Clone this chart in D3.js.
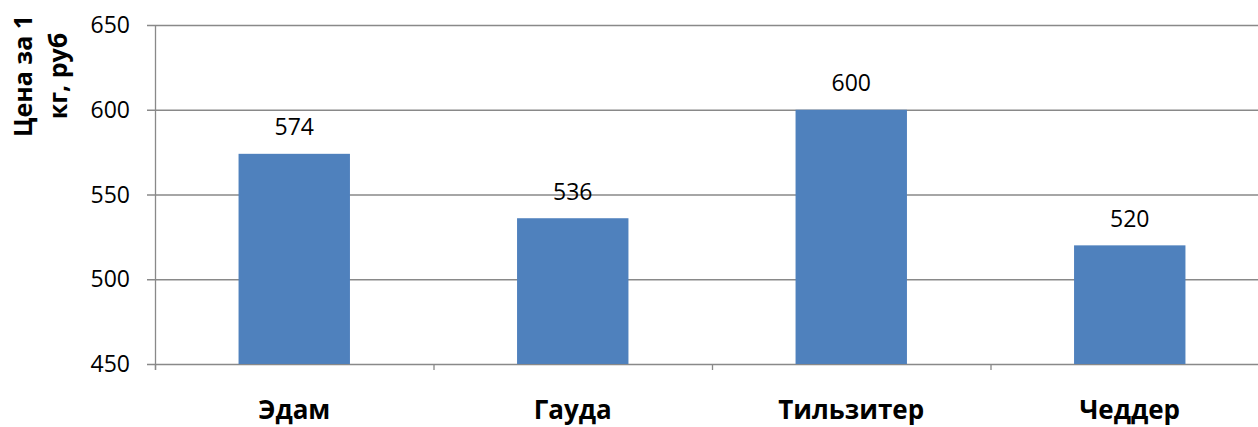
<!DOCTYPE html>
<html><head><meta charset="utf-8">
<script src="https://cdn.jsdelivr.net/npm/d3@7"></script>
<style>body{margin:0;background:#fff}svg{display:block}</style>
</head><body>
<svg id="c" width="1258" height="427"></svg>
<script>
const categories = ["Эдам", "Гауда", "Тильзитер", "Чеддер"];
const values = [574, 536, 600, 520];
const yTicks = [450, 500, 550, 600, 650];
const yTitle = ["Цена за 1", "кг, руб"];

const svg = d3.select("#c");
const font = "'Open Sans', sans-serif";
const plotLeft = 155, plotRight = 1269, plotTop = 25, plotBottom = 364;

const x = d3.scaleBand().domain(categories).range([plotLeft, plotRight]).paddingInner(0.6).paddingOuter(0.3);
const y = d3.scaleLinear().domain([450, 650]).range([plotBottom, plotTop]);

// gridlines
svg.append("g").selectAll("line").data(yTicks).join("line")
  .attr("x1", plotLeft - 8).attr("x2", 1258)
  .attr("y1", d => y(d) + 0.5).attr("y2", d => y(d) + 0.5)
  .attr("stroke", "#898989").attr("stroke-width", 1.3);

// bars
svg.append("g").selectAll("rect").data(values).join("rect")
  .attr("x", (d, i) => x(categories[i]))
  .attr("width", x.bandwidth())
  .attr("y", d => y(d))
  .attr("height", d => y(450) - y(d))
  .attr("fill", "#4f81bd");

// y axis line
svg.append("line").attr("x1", plotLeft + 0.5).attr("x2", plotLeft + 0.5)
  .attr("y1", plotTop).attr("y2", plotBottom + 6)
  .attr("stroke", "#898989").attr("stroke-width", 1.3);

// x category ticks
const step = x.step();
svg.append("g").selectAll("line").data(d3.range(categories.length + 1)).join("line")
  .attr("x1", i => plotLeft + i * step + 0.5).attr("x2", i => plotLeft + i * step + 0.5)
  .attr("y1", plotBottom).attr("y2", plotBottom + 6)
  .attr("stroke", "#898989").attr("stroke-width", 1.3);

// y tick labels
svg.append("g").selectAll("text").data(yTicks).join("text")
  .attr("x", 130).attr("y", d => y(d) + 8)
  .attr("text-anchor", "end")
  .attr("font-family", font).attr("font-size", 23).attr("fill", "#000")
  .text(d => d);

// data labels
svg.append("g").selectAll("text").data(values).join("text")
  .attr("x", (d, i) => x(categories[i]) + x.bandwidth() / 2)
  .attr("y", d => y(d) - 18.5)
  .attr("text-anchor", "middle")
  .attr("font-family", font).attr("font-size", 23).attr("fill", "#000")
  .text(d => d);

// category labels
svg.append("g").selectAll("text").data(categories).join("text")
  .attr("x", d => x(d) + x.bandwidth() / 2)
  .attr("y", 419)
  .attr("text-anchor", "middle")
  .attr("font-family", font).attr("font-size", 26).attr("font-weight", "bold").attr("fill", "#000")
  .text(d => d);

// y title
const t = svg.append("text")
  .attr("transform", "translate(0,76) rotate(-90)")
  .attr("text-anchor", "middle")
  .attr("font-family", font).attr("font-size", 25).attr("font-weight", "bold").attr("fill", "#000");
yTitle.forEach((s, i) => t.append("tspan").attr("x", 0).attr("y", 32 + i * 35).text(s));
</script>
</body></html>
